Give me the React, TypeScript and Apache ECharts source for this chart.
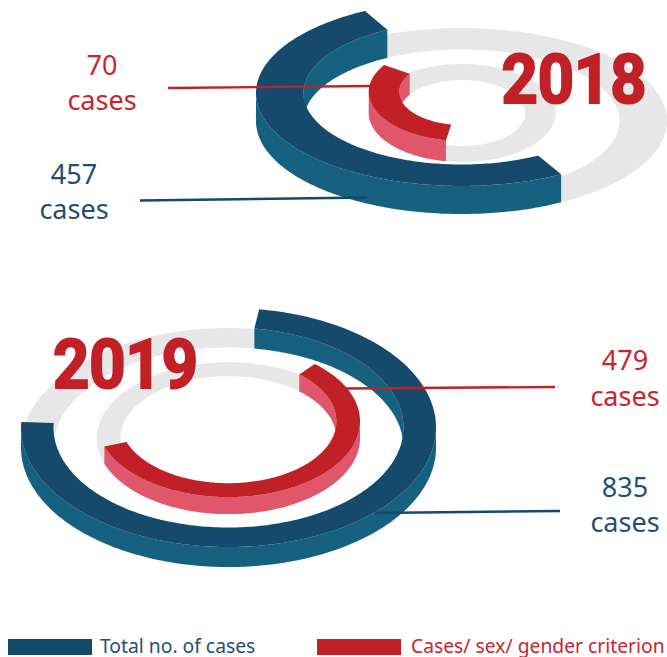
import React, { useEffect, useRef } from "react";
import * as echarts from "echarts";

const totalCases = [457, 835];
const criterionCases = [70, 479];
const years = ["2018", "2019"];
const legendNames = ["Total no. of cases", "Cases/ sex/ gender criterion"];
const totalArcStartDeg = [151, 8.5];
const totalArcEndDeg = [332, 272.6];
const criterionArcStartDeg = [190, 41];
const criterionArcEndDeg = [303.5, 250.5];

const NAVY = "#154a6c";
const TEAL = "#166180";
const RED = "#c02026";
const PINK = "#e0566a";
const GRAY = "#e7e7e7";
const TEXT_BLUE = "#1f5073";
const TEXT_RED = "#c9252d";

// cx, base cy, outer rx/ry, inner rx/ry, extrusion height
const totalRings = [
  { cx: 461.5, cy: 121, rx: 205.5, ry: 93, irx: 158, iry: 71.5, h: 28 },
  { cx: 228.5, cy: 447.5, rx: 207.5, ry: 119.5, irx: 175, iry: 100, h: 20 },
];
const criterionRings = [
  { cx: 462.2, cy: 113, rx: 93.5, ry: 49, irx: 63, iry: 33, h: 21 },
  { cx: 228.4, cy: 438.2, rx: 131.6, ry: 75.9, irx: 108, iry: 62, h: 17 },
];

const rad = (d: number) => (d * Math.PI) / 180;
const pt = (cx: number, cy: number, rx: number, ry: number, t: number) => [
  cx + rx * Math.sin(rad(t)),
  cy - ry * Math.cos(rad(t)),
];

function sweep(a: number, b: number) {
  const out: number[] = [];
  for (let t = a; t < b; t += 1) out.push(t);
  out.push(b);
  for (const m of [90, 270]) if (m > a && m < b) out.push(m);
  return out.sort((p, q) => p - q);
}

function runs(ts: number[], keep: (t: number) => boolean) {
  const res: number[][] = [];
  let cur: number[] = [];
  for (const t of ts) {
    if (keep(t)) cur.push(t);
    else {
      if (cur.length) res.push(cur);
      cur = [];
    }
  }
  if (cur.length) res.push(cur);
  return res.filter((r) => r[r.length - 1] - r[0] > 5);
}

function makeRingRenderer(rings: any[], starts: number[], ends: number[], top: string, side: string) {
  return (_p: any, api: any) => {
    const i = api.value(1);
    const g = rings[i];
    const ts = sweep(starts[i], ends[i]);
    const topCy = g.cy - g.h;
    const wall = (rx: number, ry: number, keep: (t: number) => boolean) =>
      runs(ts, keep).map((r) => ({
        type: "polygon",
        shape: {
          points: [
            ...r.map((t) => pt(g.cx, topCy, rx, ry, t)),
            ...r.slice().reverse().map((t) => pt(g.cx, g.cy, rx, ry, t)),
          ],
        },
        style: { fill: side },
        silent: true,
      }));
    const near = (t: number) => Math.cos(rad(t)) <= 1e-9;
    const far = (t: number) => Math.cos(rad(t)) >= -1e-9;
    return {
      type: "group",
      children: [
        ...wall(g.rx, g.ry, near),
        ...wall(g.irx, g.iry, far),
        {
          type: "polygon",
          shape: {
            points: [
              ...ts.map((t) => pt(g.cx, topCy, g.rx, g.ry, t)),
              ...ts.slice().reverse().map((t) => pt(g.cx, topCy, g.irx, g.iry, t)),
            ],
          },
          style: { fill: top },
          silent: true,
        },
      ],
    };
  };
}

const grayRenderer = (_p: any, api: any) => {
  const g = [...totalRings, ...criterionRings][api.value(0)];
  const ts = sweep(0, 360);
  return {
    type: "polygon",
    shape: {
      points: [
        ...ts.map((t) => pt(g.cx, g.cy, g.rx, g.ry, t)),
        ...ts.slice().reverse().map((t) => pt(g.cx, g.cy, g.irx, g.iry, t)),
      ],
    },
    style: { fill: GRAY },
    silent: true,
  };
};

const label = (text: string, x: number, y: number, fill: string) => ({
  type: "text",
  x,
  y,
  z: 10,
  style: {
    text,
    fill,
    font: '400 27px "Noto Sans"',
    textAlign: "center",
    textVerticalAlign: "middle",
  },
});

const yearText = (text: string, x: number, y: number) => ({
  type: "text",
  x,
  y,
  z: 10,
  scaleX: 0.93,
  style: {
    text,
    fill: RED,
    stroke: RED,
    lineWidth: 2.2,
    font: '700 68px Roboto',
    textAlign: "center",
    textVerticalAlign: "middle",
  },
});

const leader = (x1: number, y1: number, x2: number, y2: number, stroke: string) => ({
  type: "line",
  z: 9,
  shape: { x1, y1, x2, y2 },
  style: { stroke, lineWidth: 2.4 },
});

const legendSwatch = (x: number, fill: string) => ({
  type: "rect",
  z: 10,
  shape: { x, y: 639, width: 84, height: 16 },
  style: { fill },
});

const legendText = (text: string, x: number, fill: string) => ({
  type: "text",
  x,
  y: 645,
  z: 10,
  style: {
    text,
    fill,
    font: '400 19.3px "Noto Sans"',
    textAlign: "left",
    textVerticalAlign: "middle",
  },
});

export default function App() {
  const ref = useRef<HTMLDivElement>(null);
  useEffect(() => {
    const chart = echarts.init(ref.current!, null, { renderer: "svg" });
    chart.setOption({
      animation: false,
      backgroundColor: "#ffffff",
      series: [
        {
          type: "custom",
          name: "rings",
          coordinateSystem: "none",
          silent: true,
          data: [[0], [1], [2], [3]],
          renderItem: grayRenderer,
        },
        {
          type: "custom",
          name: legendNames[0],
          coordinateSystem: "none",
          silent: true,
          itemStyle: { color: NAVY },
          data: totalCases.map((v, i) => [v, i]),
          renderItem: makeRingRenderer(totalRings, totalArcStartDeg, totalArcEndDeg, NAVY, TEAL),
        },
        {
          type: "custom",
          name: legendNames[1],
          coordinateSystem: "none",
          silent: true,
          itemStyle: { color: RED },
          data: criterionCases.map((v, i) => [v, i]),
          renderItem: makeRingRenderer(criterionRings, criterionArcStartDeg, criterionArcEndDeg, RED, PINK),
        },
      ],
      graphic: [
        leader(168, 88, 371, 86, RED),
        leader(140, 200.5, 367, 197.5, NAVY),
        leader(555, 387, 346, 388.5, RED),
        leader(560, 511, 375, 513, NAVY),
        yearText(years[0], 574, 80),
        yearText(years[1], 125.5, 365),
        label(String(criterionCases[0]), 102, 64, TEXT_RED),
        label("cases", 102, 99, TEXT_RED),
        label(String(totalCases[0]), 74, 173, TEXT_BLUE),
        label("cases", 74, 208, TEXT_BLUE),
        label(String(criterionCases[1]), 625, 359, TEXT_RED),
        label("cases", 625, 395, TEXT_RED),
        label(String(totalCases[1]), 625, 486, TEXT_BLUE),
        label("cases", 625, 521.5, TEXT_BLUE),
        legendSwatch(8, NAVY),
        legendSwatch(317, RED),
        legendText(legendNames[0], 100, TEXT_BLUE),
        legendText(legendNames[1], 411, TEXT_RED),
      ],
    });
    return () => chart.dispose();
  }, []);
  return (
    <div
      ref={ref}
      style={{ position: "absolute", left: 0, top: 0, width: 667, height: 657, overflow: "hidden" }}
    />
  );
}
